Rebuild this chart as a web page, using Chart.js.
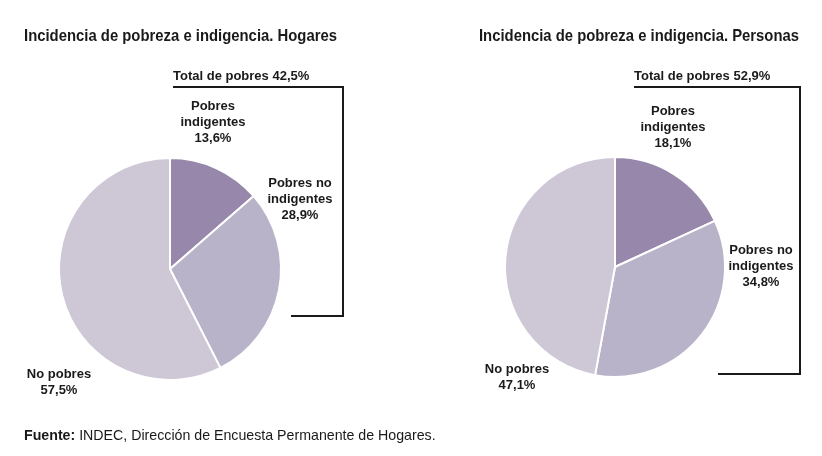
<!DOCTYPE html>
<html>
<head>
<meta charset="utf-8">
<script src="https://cdn.jsdelivr.net/npm/chart.js@4.4.1/dist/chart.umd.min.js"></script>
<style>
  html, body { margin: 0; padding: 0; background: #fff; }
  #wrap { position: relative; width: 822px; height: 456px; overflow: hidden; }
  .box { position: absolute; top: 0; width: 411px; height: 456px; }
  #fuente { position: absolute; left: 24px; top: 427px; font: 14.2px 'Liberation Sans', Arial, sans-serif; color: #1a1a1a; white-space: nowrap; }
</style>
</head>
<body>
<div id="wrap">
  <div class="box" style="left:0"><canvas id="hogares"></canvas></div>
  <div class="box" style="left:411px"><canvas id="personas"></canvas></div>
  <div id="fuente"><b>Fuente:</b> INDEC, Dirección de Encuesta Permanente de Hogares.</div>
</div>
<script>
// datos
const categories = ['Pobres indigentes', 'Pobres no indigentes', 'No pobres'];
const labelLines = [['Pobres', 'indigentes'], ['Pobres no', 'indigentes'], ['No pobres']];
const hogares = [13.6, 28.9, 57.5];
const personas = [18.1, 34.8, 47.1];
const totalPobres = [42.5, 52.9];
const colors = ['#9787aa', '#b8b3c8', '#cdc7d6'];

const pct = v => v.toFixed(1).replace('.', ',') + '%';

// titulos, etiquetas y corchete
const decoPlugin = {
  id: 'deco',
  afterDraw(chart, args, o) {
    const ctx = chart.ctx;
    const arc = chart.getDatasetMeta(0).data[0];
    const cx = arc.x, cy = arc.y;
    const vals = chart.data.datasets[0].data;
    ctx.save();
    ctx.fillStyle = '#1a1a1a';
    // titulo
    ctx.font = "bold 17px 'Liberation Sans Narrow', 'Liberation Sans', Arial, sans-serif";
    ctx.textAlign = 'left';
    ctx.textBaseline = 'middle';
    ctx.fillText(o.title, o.titleX, 36, o.titleW);
    // total de pobres
    ctx.font = "bold 13px 'Liberation Sans', Arial, sans-serif";
    ctx.fillText('Total de pobres ' + pct(o.total), o.br[0], 76);
    ctx.strokeStyle = '#1a1a1a';
    ctx.lineWidth = 2;
    ctx.beginPath();
    ctx.moveTo(o.br[0], 87);
    ctx.lineTo(o.br[1], 87);
    ctx.lineTo(o.br[1], o.br[3]);
    ctx.lineTo(o.br[2], o.br[3]);
    ctx.stroke();
    // etiquetas
    ctx.textAlign = 'center';
    vals.forEach((v, i) => {
      const lines = labelLines[i].concat([pct(v)]);
      const p = o.pos[i];
      lines.forEach((t, j) => ctx.fillText(t, cx + p[0], cy + p[1] + j * 16));
    });
    ctx.restore();
  }
};

function makePie(id, values, opts, pad) {
  return new Chart(document.getElementById(id), {
    type: 'pie',
    data: {
      labels: categories,
      datasets: [{
        data: values,
        backgroundColor: colors,
        borderColor: '#ffffff',
        borderWidth: 2
      }]
    },
    options: {
      responsive: true,
      maintainAspectRatio: false,
      animation: false,
      layout: { padding: pad },
      plugins: {
        legend: { display: false },
        tooltip: { enabled: false },
        deco: opts
      }
    },
    plugins: [decoPlugin]
  });
}

makePie('hogares', hogares, {
  title: 'Incidencia de pobreza e indigencia. Hogares',
  titleX: 24, titleW: 313,
  total: totalPobres[0],
  br: [173, 343, 291, 316],
  pos: [[43, -163], [130, -86], [-111, 105]]
}, { left: 58, right: 129, top: 157, bottom: 75 });

makePie('personas', personas, {
  title: 'Incidencia de pobreza e indigencia. Personas',
  titleX: 68, titleW: 320,
  total: totalPobres[1],
  br: [223, 389, 307, 374],
  pos: [[58, -156], [146, -17], [-98, 102]]
}, { left: 93, right: 96, top: 156, bottom: 78 });
</script>
</body>
</html>
